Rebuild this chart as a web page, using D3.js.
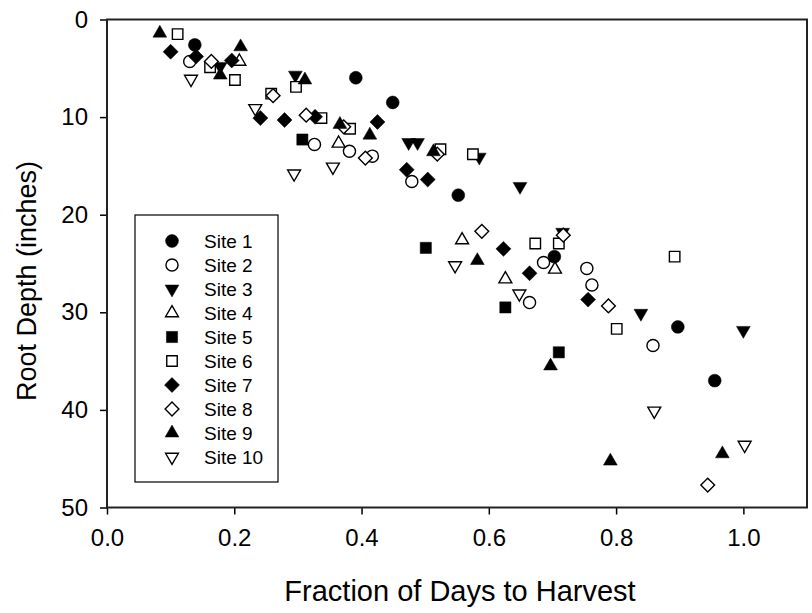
<!DOCTYPE html>
<html>
<head>
<meta charset="utf-8">
<script src="https://cdn.jsdelivr.net/npm/d3@7"></script>
<style>
  body { margin: 0; background: #fff; }
  text { font-family: "Liberation Sans", Arial, sans-serif; fill: #000; }
</style>
</head>
<body>
<svg id="chart"></svg>
<script>
// fraction of days to harvest (x) and root depth in inches (y), per site
const site1x = [0.138, 0.391, 0.449, 0.552, 0.703, 0.897, 0.955];
const site1y = [2.6, 5.97, 8.5, 18.0, 24.3, 31.5, 37.0];
const site2x = [0.130, 0.326, 0.381, 0.417, 0.479, 0.686, 0.664, 0.754, 0.762, 0.858];
const site2y = [4.3, 12.8, 13.5, 14.0, 16.6, 24.9, 29.0, 25.5, 27.2, 33.4];
const site3x = [0.178, 0.296, 0.474, 0.488, 0.585, 0.649, 0.716, 0.839, 1.000];
const site3y = [4.8, 5.7, 12.6, 12.6, 14.1, 17.1, 21.8, 30.1, 31.85];
const site4x = [0.208, 0.364, 0.558, 0.626, 0.704];
const site4y = [4.3, 12.7, 22.6, 26.6, 25.6];
const site5x = [0.307, 0.501, 0.626, 0.710];
const site5y = [12.3, 23.4, 29.5, 34.1];
const site6x = [0.111, 0.162, 0.201, 0.258, 0.297, 0.337, 0.382, 0.524, 0.575, 0.673, 0.710, 0.801, 0.892];
const site6y = [1.5, 4.9, 6.2, 7.6, 6.9, 10.1, 11.2, 13.3, 13.8, 22.95, 22.95, 31.7, 24.3];
const site7x = [0.100, 0.140, 0.196, 0.241, 0.279, 0.327, 0.425, 0.471, 0.504, 0.623, 0.664, 0.756];
const site7y = [3.3, 3.8, 4.2, 10.1, 10.3, 9.97, 10.5, 15.4, 16.4, 23.5, 26.0, 28.7];
const site8x = [0.164, 0.261, 0.313, 0.372, 0.406, 0.519, 0.589, 0.717, 0.788, 0.944];
const site8y = [4.3, 7.8, 9.8, 11.0, 14.2, 13.8, 21.7, 22.1, 29.35, 47.7];
const site9x = [0.083, 0.210, 0.178, 0.311, 0.366, 0.413, 0.513, 0.582, 0.697, 0.791, 0.967];
const site9y = [1.4, 2.8, 5.7, 6.2, 10.75, 11.85, 13.55, 24.7, 35.5, 45.25, 44.5];
const site10x = [0.132, 0.233, 0.294, 0.355, 0.547, 0.648, 0.860, 1.002];
const site10y = [6.1, 9.1, 15.8, 15.1, 25.2, 28.1, 40.1, 43.6];

const siteNames = ["Site 1", "Site 2", "Site 3", "Site 4", "Site 5",
                   "Site 6", "Site 7", "Site 8", "Site 9", "Site 10"];
const xTicks = [0.0, 0.2, 0.4, 0.6, 0.8, 1.0];
const yTicks = [0, 10, 20, 30, 40, 50];

const allX = [site1x, site2x, site3x, site4x, site5x, site6x, site7x, site8x, site9x, site10x];
const allY = [site1y, site2y, site3y, site4y, site5y, site6y, site7y, site8y, site9y, site10y];

// marker style for each site: shape, filled?, rotation
const markers = [
  {shape: d3.symbolCircle, size: 130, fill: true, rot: 0},
  {shape: d3.symbolCircle, size: 115, fill: false, rot: 0},
  {shape: d3.symbolTriangle, size: 82, fill: true, rot: 180},
  {shape: d3.symbolTriangle, size: 72, fill: false, rot: 0},
  {shape: d3.symbolSquare, size: 125, fill: true, rot: 0},
  {shape: d3.symbolSquare, size: 110, fill: false, rot: 0},
  {shape: d3.symbolSquare, size: 112, fill: true, rot: 45},
  {shape: d3.symbolSquare, size: 95, fill: false, rot: 45},
  {shape: d3.symbolTriangle, size: 82, fill: true, rot: 0},
  {shape: d3.symbolTriangle, size: 72, fill: false, rot: 180}
];

const width = 812, height = 613;
const margin = {top: 19.5, right: 5, bottom: 105.5, left: 107};

const svg = d3.select("#chart").attr("width", width).attr("height", height);
const chart = svg.append("g").attr("transform", `translate(${margin.left},${margin.top})`);
const innerW = width - margin.left - margin.right;
const innerH = height - margin.top - margin.bottom;

const x = d3.scaleLinear().domain([0, 1.1]).range([0, innerW]);
const y = d3.scaleLinear().domain([0, 50]).range([0, innerH]);

const xAxis = d3.axisBottom(x).tickValues(xTicks).tickFormat(d3.format(".1f"))
  .tickSizeInner(7).tickSizeOuter(0).tickPadding(14);
const yAxis = d3.axisLeft(y).tickValues(yTicks).tickFormat(d3.format("d"))
  .tickSizeInner(7).tickSizeOuter(0).tickPadding(12);

const xg = chart.append("g").attr("transform", `translate(0,${innerH})`).call(xAxis);
const yg = chart.append("g").call(yAxis);
[xg, yg].forEach(g => {
  g.select(".domain").remove();
  g.selectAll(".tick line").attr("stroke", "#000").attr("stroke-width", 1.5);
  g.selectAll(".tick text").style("font-size", "24px")
    .style("font-family", '"Liberation Sans", Arial, sans-serif');
});

// frame
chart.append("rect").attr("width", innerW).attr("height", innerH)
  .attr("fill", "none").attr("stroke", "#222").attr("stroke-width", 2);

function drawSymbol(sel, m) {
  sel.attr("d", d3.symbol().type(m.shape).size(m.size))
    .attr("fill", m.fill ? "#000" : "#fff")
    .attr("stroke", "#000")
    .attr("stroke-width", m.fill ? 0.5 : 1.4);
}

allX.forEach((xs, i) => {
  const m = markers[i];
  const pts = xs.map((v, j) => ({x: v, y: allY[i][j]}));
  chart.append("g").selectAll("path").data(pts).join("path")
    .attr("transform", d => `translate(${x(d.x)},${y(d.y)}) rotate(${m.rot})`)
    .call(drawSymbol, m);
});

// legend
const legend = chart.append("g").attr("transform", `translate(${135 - margin.left},${215 - margin.top})`);
legend.append("rect").attr("width", 143).attr("height", 267)
  .attr("fill", "#fff").attr("stroke", "#000").attr("stroke-width", 1.2);
siteNames.forEach((name, i) => {
  const row = legend.append("g").attr("transform", `translate(0,${26 + i * 24})`);
  row.append("path").attr("transform", `translate(37,0) rotate(${markers[i].rot})`)
    .call(drawSymbol, markers[i]);
  row.append("text").attr("x", 69).attr("y", 0).attr("dy", "0.35em")
    .style("font-size", "19px").text(name);
});

// axis titles
svg.append("text")
  .attr("x", margin.left + innerW / 2 + 3).attr("y", 601)
  .attr("text-anchor", "middle").style("font-size", "29px")
  .text("Fraction of Days to Harvest");
svg.append("text")
  .attr("transform", `translate(36,281) rotate(-90)`)
  .attr("text-anchor", "middle").style("font-size", "27px")
  .text("Root Depth (inches)");
</script>
</body>
</html>
